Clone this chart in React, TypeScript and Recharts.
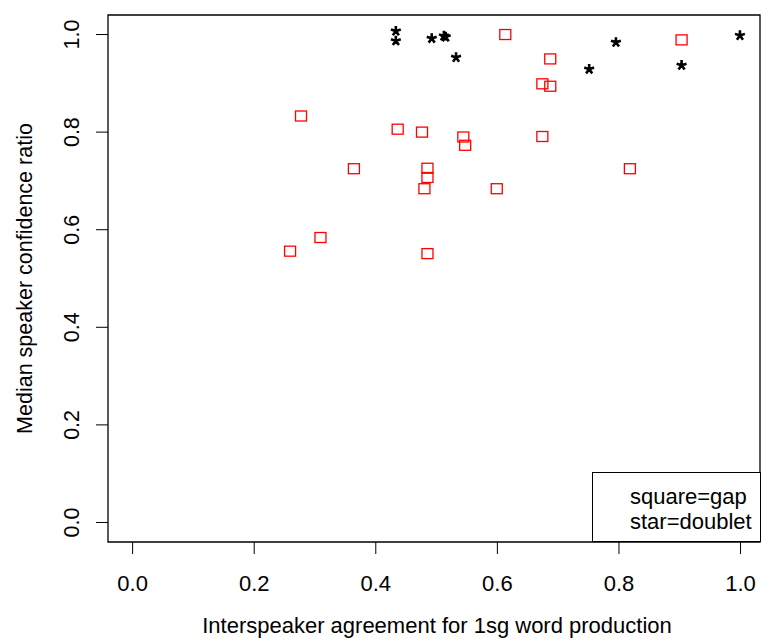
import { Legend, ReferenceArea, Scatter, ScatterChart, XAxis, YAxis } from "recharts";

const xTicks = [0, 0.2, 0.4, 0.6, 0.8, 1.0];
const yTicks = [0, 0.2, 0.4, 0.6, 0.8, 1.0];

// square = gap
const gapAgreement = [0.613, 0.687, 0.674, 0.687, 0.903, 0.277, 0.436, 0.476, 0.544, 0.547, 0.674, 0.364, 0.485, 0.485, 0.48, 0.599, 0.818, 0.309, 0.259, 0.485];
const gapConfidence = [1.0, 0.95, 0.899, 0.894, 0.989, 0.833, 0.806, 0.8, 0.79, 0.773, 0.791, 0.725, 0.726, 0.707, 0.684, 0.684, 0.725, 0.584, 0.556, 0.551];

// star = doublet
const doubletAgreement = [0.433, 0.433, 0.492, 0.512, 0.515, 0.532, 0.751, 0.795, 0.903, 0.999];
const doubletConfidence = [1.007, 0.987, 0.992, 0.997, 0.995, 0.953, 0.929, 0.984, 0.937, 0.998];

const legendLines = ["square=gap", "star=doublet"];
const xTitle = "Interspeaker agreement for 1sg word production";
const yTitle = "Median speaker confidence ratio";

const xDomain: [number, number] = [-0.0405, 1.032];
const yDomain: [number, number] = [-0.04, 1.04];

const font = "'Liberation Sans', Arial, Helvetica, sans-serif";

const gapData = gapAgreement.map((x, i) => ({ x, y: gapConfidence[i] }));
const doubletData = doubletAgreement.map((x, i) => ({ x, y: doubletConfidence[i] }));

function SquareMark({ cx, cy }: any) {
  return <rect x={cx - 5.5} y={cy - 5} width={11} height={10} fill="none" stroke="#ff0000" strokeWidth={1.3} />;
}

function StarMark({ cx, cy }: any) {
  const r = 5.2;
  const d = [0, 72, -72, 144, -144]
    .map((deg) => {
      const a = (deg * Math.PI) / 180;
      return `M${cx},${cy}L${cx + r * Math.sin(a)},${cy - r * Math.cos(a)}`;
    })
    .join("");
  return <path d={d} stroke="#000" strokeWidth={2.6} fill="none" />;
}

function XTick({ x, y, payload }: any) {
  return (
    <text x={x} y={y + 35} textAnchor="middle" fontSize={22} fontFamily={font} fill="#000">
      {Number(payload.value).toFixed(1)}
    </text>
  );
}

function YTick({ x, y, payload }: any) {
  const tx = x - 15;
  return (
    <text x={tx} y={y} transform={`rotate(-90, ${tx}, ${y})`} textAnchor="middle" fontSize={21.5} fontFamily={font} fill="#000">
      {Number(payload.value).toFixed(1)}
    </text>
  );
}

function LegendBox() {
  return (
    <div
      style={{
        boxSizing: "border-box",
        width: 169,
        height: 70,
        border: "1px solid #000",
        background: "#fff",
        paddingTop: 11,
        paddingLeft: 37,
        fontFamily: font,
        fontSize: 22,
        lineHeight: "25px",
        color: "#000",
        whiteSpace: "nowrap"
      }}
    >
      {legendLines.map((t) => (
        <div key={t}>{t}</div>
      ))}
    </div>
  );
}

export default function App() {
  return (
    <div style={{ position: "absolute", left: 0, top: 0, width: 761, height: 639, background: "#fff" }}>
      <ScatterChart width={761} height={639} margin={{ top: 15, right: 1, bottom: 0, left: 0 }}>
        <XAxis
          type="number"
          dataKey="x"
          domain={xDomain}
          allowDataOverflow
          ticks={xTicks}
          tick={<XTick />}
          tickSize={12}
          tickLine={{ stroke: "#000", strokeWidth: 1 }}
          axisLine={false}
          height={97}
          label={{
            content: () => (
              <text x={437} y={633} textAnchor="middle" fontSize={22} fontFamily={font} fill="#000">
                {xTitle}
              </text>
            )
          }}
        />
        <YAxis
          type="number"
          dataKey="y"
          domain={yDomain}
          allowDataOverflow
          ticks={yTicks}
          tick={<YTick />}
          tickSize={12}
          tickLine={{ stroke: "#000", strokeWidth: 1 }}
          axisLine={false}
          width={108}
          label={{
            content: () => (
              <text x={32} y={278.5} transform="rotate(-90, 32, 278.5)" textAnchor="middle" fontSize={21.5} fontFamily={font} fill="#000">
                {yTitle}
              </text>
            )
          }}
        />
        <ReferenceArea
          x1={xDomain[0]}
          x2={xDomain[1]}
          y1={yDomain[0]}
          y2={yDomain[1]}
          fill="none"
          fillOpacity={0}
          stroke="#000"
          strokeWidth={1.3}
          ifOverflow="visible"
        />
        <Legend
          layout="horizontal"
          verticalAlign="middle"
          align="center"
          wrapperStyle={{ position: "absolute", left: 592, top: 472, width: 169, height: 70 }}
          content={() => <LegendBox />}
        />
        <Scatter name="gap" data={gapData} shape={<SquareMark />} isAnimationActive={false} />
        <Scatter name="doublet" data={doubletData} shape={<StarMark />} isAnimationActive={false} />
      </ScatterChart>
    </div>
  );
}
